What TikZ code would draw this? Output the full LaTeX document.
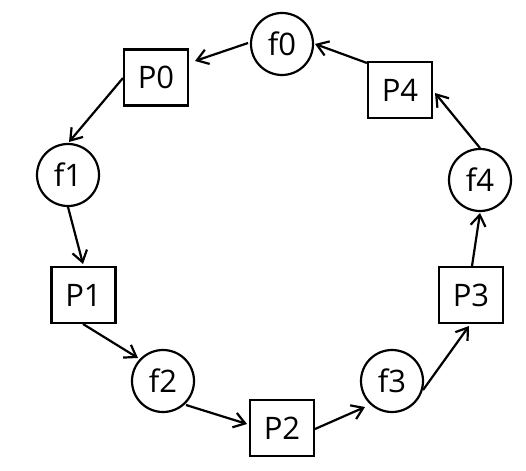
\documentclass[tikz,border=0pt]{standalone}
\usepackage{fontspec}
\setmainfont{Open Sans}
\usetikzlibrary{arrows.meta}
\begin{document}
\begin{tikzpicture}[x=1pt,y=-1pt,
  proc/.style={draw, line width=2.2pt, rectangle, minimum width=64pt, minimum height=56pt, inner sep=0pt, font=\fontsize{31}{34}\selectfont},
  fn/.style={draw, line width=2.2pt, circle, minimum size=62pt, inner sep=0pt, font=\fontsize{31}{34}\selectfont},
  arr/.style={line width=2.2pt, -{Straight Barb[length=11pt,width=15pt]}}]
\useasboundingbox (0,0) rectangle (526,470);
\node[fn] (f0) at (282,44) {f0};
\node[proc] (P0) at (156,77.5) {P0};
\node[fn] (f1) at (68,175) {f1};
\node[proc] (P1) at (83.5,295) {P1};
\node[fn] (f2) at (163,381) {f2};
\node[proc] (P2) at (282,428) {P2};
\node[fn] (f3) at (392,381) {f3};
\node[proc] (P3) at (471,295) {P3};
\node[fn] (f4) at (480,180) {f4};
\node[proc] (P4) at (400,90) {P4};
\draw[arr] ([shift={(-34,-1)}]f0.center) -- ([shift={(39,-16.5)}]P0.center);
\draw[arr] ([shift={(-33,0.5)}]P0.center) -- ([shift={(1,-33)}]f1.center);
\draw[arr] ([shift={(0,32)}]f1.center) -- ([shift={(-0.5,-31)}]P1.center);
\draw[arr] ([shift={(-0.5,29)}]P1.center) -- ([shift={(-25,-23)}]f2.center);
\draw[arr] ([shift={(23,24)}]f2.center) -- ([shift={(-35,-4)}]P2.center);
\draw[arr] ([shift={(33,1)}]P2.center) -- ([shift={(-27,26)}]f3.center);
\draw[arr] ([shift={(31,9)}]f3.center) -- ([shift={(-2,31)}]P3.center);
\draw[arr] ([shift={(1,-29)}]P3.center) -- ([shift={(0,33)}]f4.center);
\draw[arr] ([shift={(0,-32)}]f4.center) -- ([shift={(35,3)}]P4.center);
\draw[arr] ([shift={(-33,-27)}]P4.center) -- ([shift={(33,0)}]f0.center);
\end{tikzpicture}
\end{document}
